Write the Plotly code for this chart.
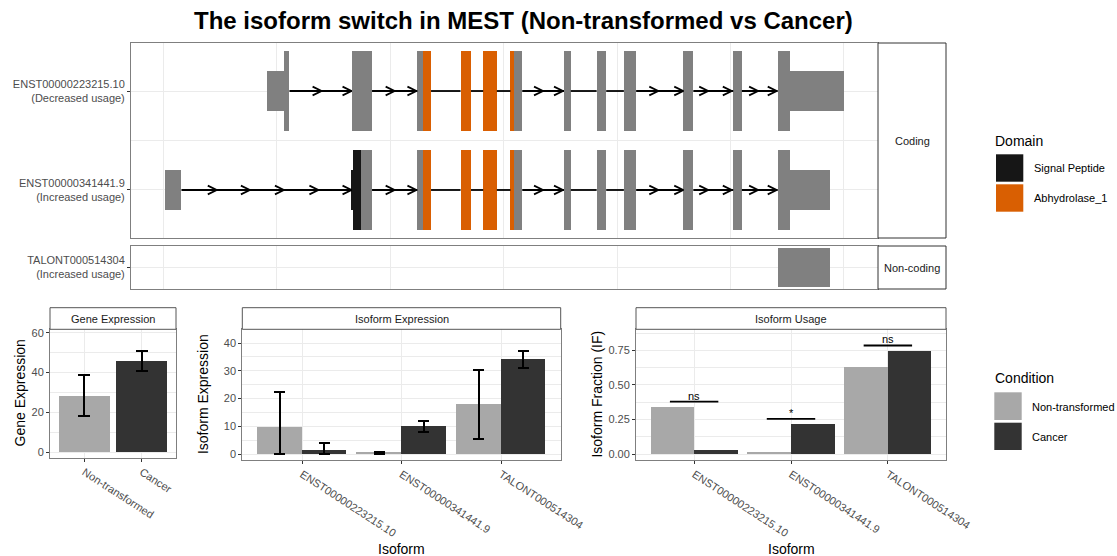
import plotly.graph_objects as go

W, H = 1117, 556

# ---------------- data ----------------
t1_name, t1_note = "ENST00000223215.10", "(Decreased usage)"
t2_name, t2_note = "ENST00000341441.9", "(Increased usage)"
t3_name, t3_note = "TALONT000514304", "(Increased usage)"

# exon segments (rescaled genomic coordinates)
t1_cds_start = [266, 415, 560, 655, 705, 765, 883, 955, 1015, 1146, 1256, 1354]
t1_cds_end = [278, 460, 590, 678, 735, 791, 898, 976, 1042, 1168, 1275, 1381]
t1_utr_start = [228, 1381]
t1_utr_end = [266, 1499]

t2_cds_start = [417, 560, 655, 705, 765, 883, 955, 1015, 1146, 1256, 1354]
t2_cds_end = [460, 590, 678, 735, 791, 898, 976, 1042, 1168, 1275, 1381]
t2_utr_start = [4, 415, 1381]
t2_utr_end = [40, 417, 1469]

t3_utr_start = [1354]
t3_utr_end = [1469]

# protein domains
sigpep_start = [415]
sigpep_end = [436]
abhyd_start = [573, 655, 705, 765]
abhyd_end = [590, 678, 735, 772]

# intron direction arrow tips
t1_arrows = [349, 415, 510, 558, 837, 881, 1091, 1146, 1201, 1253, 1311, 1352]
t2_arrows = [118, 191, 266, 342, 415, 510, 558, 837, 881, 1091, 1146, 1201, 1253, 1311, 1352]

# expression
conditions = ["Non-transformed", "Cancer"]
isoforms = ["ENST00000223215.10", "ENST00000341441.9", "TALONT000514304"]

gene_expr = [28.3, 45.9]
gene_lo = [18.1, 41.0]
gene_hi = [38.8, 51.0]

iso_nt = [9.7, 0.4, 17.8]
iso_nt_lo = [0.0, 0.0, 5.3]
iso_nt_hi = [22.4, 0.9, 30.3]
iso_ca = [1.5, 9.9, 34.0]
iso_ca_lo = [0.0, 8.0, 31.0]
iso_ca_hi = [3.9, 12.0, 37.1]

if_nt = [0.338, 0.006, 0.628]
if_ca = [0.029, 0.215, 0.741]
sig_y = [0.379, 0.254, 0.785]
sig_text = ["ns", "*", "ns"]

# ---------------- style ----------------
FONT = "Liberation Sans, Arial, Helvetica, sans-serif"
GRID = "#EBEBEB"
BORDER = "#7F7F7F"
TICKC = "#4D4D4D"
EXON = "#808080"
ORANGE = "#D95F02"
SIGP = "#161616"
NT_COL = "#A8A8A8"
CA_COL = "#333333"


def xdom(l, r):
    return [l / W, r / W]


def ydom(t, b):
    return [1 - b / H, 1 - t / H]


fig = go.Figure()


def hbars(starts, ends, row, height, color, xa, ya):
    fig.add_trace(go.Bar(
        orientation="h", base=starts,
        x=[e - s for s, e in zip(starts, ends)],
        y=[row] * len(starts), width=height,
        marker=dict(color=color, line=dict(width=0)),
        xaxis=xa, yaxis=ya, showlegend=False, hoverinfo="skip"))


def introns(segs, row, arrows, xa, ya):
    segs = sorted(segs)
    merged = []
    for s, e in segs:
        if merged and s <= merged[-1][1]:
            merged[-1][1] = max(merged[-1][1], e)
        else:
            merged.append([s, e])
    xs, ys = [], []
    for a, b in zip(merged[:-1], merged[1:]):
        xs += [a[1], b[0], None]
        ys += [row, row, None]
    dx, dy = 20, 0.044
    for t in arrows:
        xs += [t - dx, t, t - dx, None]
        ys += [row + dy, row, row - dy, None]
    fig.add_trace(go.Scatter(x=xs, y=ys, mode="lines",
                             line=dict(color="black", width=1.8),
                             xaxis=xa, yaxis=ya, showlegend=False, hoverinfo="skip"))


# transcript 1 (row 2) and 2 (row 1) in coding panel
introns(list(zip(t1_cds_start, t1_cds_end)) + list(zip(t1_utr_start, t1_utr_end)), 2, t1_arrows, "x", "y")
introns(list(zip(t2_cds_start, t2_cds_end)) + list(zip(t2_utr_start, t2_utr_end)), 1, t2_arrows, "x", "y")
hbars(t1_cds_start, t1_cds_end, 2, 0.8, EXON, "x", "y")
hbars(t1_utr_start, t1_utr_end, 2, 0.4, EXON, "x", "y")
hbars(t2_cds_start, t2_cds_end, 1, 0.8, EXON, "x", "y")
hbars(t2_utr_start, t2_utr_end, 1, 0.4, EXON, "x", "y")
hbars(abhyd_start, abhyd_end, 2, 0.8, ORANGE, "x", "y")
hbars(abhyd_start, abhyd_end, 1, 0.8, ORANGE, "x", "y")
hbars(sigpep_start[:1], [sigpep_start[0] + 2], 1, 0.4, SIGP, "x", "y")
hbars([s + 2 for s in sigpep_start], sigpep_end, 1, 0.8, SIGP, "x", "y")
# non-coding panel
hbars(t3_utr_start, t3_utr_end, 1, 0.4, EXON, "x2", "y2")

# gene expression
fig.add_trace(go.Bar(
    x=[0, 1], y=gene_expr, width=0.9,
    marker=dict(color=[NT_COL, CA_COL], line=dict(width=0)),
    error_y=dict(type="data", symmetric=False,
                 array=[h - v for h, v in zip(gene_hi, gene_expr)],
                 arrayminus=[v - l for l, v in zip(gene_lo, gene_expr)],
                 color="black", thickness=2, width=6),
    xaxis="x3", yaxis="y3", showlegend=False, hoverinfo="skip"))

# isoform expression
for vals, lo, hi, col, off in [(iso_nt, iso_nt_lo, iso_nt_hi, NT_COL, -0.225),
                                (iso_ca, iso_ca_lo, iso_ca_hi, CA_COL, 0.225)]:
    fig.add_trace(go.Bar(
        x=[i + off for i in range(len(vals))], y=vals, width=0.45,
        marker=dict(color=col, line=dict(width=0)),
        error_y=dict(type="data", symmetric=False,
                     array=[h - v for h, v in zip(hi, vals)],
                     arrayminus=[v - l for l, v in zip(lo, vals)],
                     color="black", thickness=2, width=5.5),
        xaxis="x4", yaxis="y4", showlegend=False, hoverinfo="skip"))

# isoform usage
for vals, col, off in [(if_nt, NT_COL, -0.225), (if_ca, CA_COL, 0.225)]:
    fig.add_trace(go.Bar(
        x=[i + off for i in range(len(vals))], y=vals, width=0.45,
        marker=dict(color=col, line=dict(width=0)),
        xaxis="x5", yaxis="y5", showlegend=False, hoverinfo="skip"))

sx, sy = [], []
for i, yv in enumerate(sig_y):
    sx += [i - 0.25, i + 0.25, None]
    sy += [yv, yv, None]
fig.add_trace(go.Scatter(x=sx, y=sy, mode="lines", line=dict(color="black", width=1.8),
                         xaxis="x5", yaxis="y5", showlegend=False, hoverinfo="skip"))

# ---------------- axes ----------------
base_ax = dict(showline=True, mirror=True, linecolor=BORDER, linewidth=1,
               zeroline=False, showgrid=True, gridcolor=GRID, gridwidth=1,
               tickfont=dict(family=FONT, size=11, color=TICKC),
               ticks="outside", ticklen=3, tickcolor="#333333", tickwidth=1,
               automargin=False)

lay = dict(
    xaxis=dict(base_ax, domain=xdom(131, 878), anchor="y", range=[-71.2, 1575],
               tickmode="linear", tick0=0, dtick=250, showticklabels=False, ticks=""),
    yaxis=dict(base_ax, domain=ydom(43, 238), anchor="x", range=[0.515, 2.485],
               tickmode="array", tickvals=[1, 2],
               ticktext=[t2_name + "<br>" + t2_note, t1_name + "<br>" + t1_note],
               minor=dict(tickmode="array", tickvals=[1.5], showgrid=True,
                          gridcolor=GRID, gridwidth=0.6, ticks="")),
    xaxis2=dict(base_ax, domain=xdom(131, 878), anchor="y2", range=[-71.2, 1575],
                tickmode="linear", tick0=0, dtick=250, showticklabels=False, ticks=""),
    yaxis2=dict(base_ax, domain=ydom(246, 289), anchor="x2", range=[0.783, 1.217],
                tickmode="array", tickvals=[1], ticktext=[t3_name + "<br>" + t3_note]),
    xaxis3=dict(base_ax, domain=xdom(50, 176), anchor="y3", range=[-0.6, 1.6],
                tickmode="array", tickvals=[0, 1], ticktext=conditions, tickangle=33),
    yaxis3=dict(base_ax, domain=ydom(329.3, 457.7), anchor="x3", range=[-2.7, 61.7],
                tickmode="array", tickvals=[0, 20, 40, 60],
                minor=dict(tickmode="array", tickvals=[10, 30, 50], showgrid=True,
                           gridcolor=GRID, gridwidth=0.6, ticks="")),
    xaxis4=dict(base_ax, domain=xdom(242.3, 560.7), anchor="y4", range=[-0.6, 2.6],
                tickmode="array", tickvals=[0, 1, 2], ticktext=isoforms, tickangle=33),
    yaxis4=dict(base_ax, domain=ydom(329.3, 460), anchor="x4", range=[-2.16, 44.94],
                tickmode="array", tickvals=[0, 10, 20, 30, 40],
                minor=dict(tickmode="array", tickvals=[5, 15, 25, 35], showgrid=True,
                           gridcolor=GRID, gridwidth=0.6, ticks="")),
    xaxis5=dict(base_ax, domain=xdom(636, 946), anchor="y5", range=[-0.6, 2.6],
                tickmode="array", tickvals=[0, 1, 2], ticktext=isoforms, tickangle=33),
    yaxis5=dict(base_ax, domain=ydom(329.3, 460), anchor="x5", range=[-0.0434, 0.902],
                tickmode="array", tickvals=[0, 0.25, 0.5, 0.75],
                ticktext=["0.00", "0.25", "0.50", "0.75"],
                minor=dict(tickmode="array", tickvals=[0.125, 0.375, 0.625, 0.875],
                           showgrid=True, gridcolor=GRID, gridwidth=0.6, ticks="")),
)

shapes = []
annotations = []


def paper_rect(l, t, r, b, fill, line_col, lw=1):
    shapes.append(dict(type="rect", xref="paper", yref="paper",
                       x0=l / W, x1=r / W, y0=1 - b / H, y1=1 - t / H,
                       fillcolor=fill, line=dict(color=line_col, width=lw), layer="above"))


def text(x, y, s, size=11, color="#1A1A1A", xanchor="center", angle=0, family=FONT):
    annotations.append(dict(x=x / W, y=1 - y / H, xref="paper", yref="paper", text=s,
                            showarrow=False, xanchor=xanchor, yanchor="middle",
                            textangle=angle, font=dict(family=family, size=size, color=color)))


# facet strips
paper_rect(878, 43, 946, 238, "white", "#333333")
paper_rect(878, 246, 946, 289, "white", "#333333")
text(912, 140.5, "Coding")
text(912, 267.5, "Non-coding")
paper_rect(50, 307.7, 176, 329.3, "white", "#555555")
paper_rect(242.3, 307.7, 560.7, 329.3, "white", "#555555")
paper_rect(636, 307.7, 946, 329.3, "white", "#555555")
text(113, 318.5, "Gene Expression")
text(401.5, 318.5, "Isoform Expression")
text(791, 318.5, "Isoform Usage")

# axis titles
text(19, 393.5, "Gene Expression", size=14, color="black", angle=-90)
text(202.5, 394.6, "Isoform Expression", size=14, color="black", angle=-90)
text(597, 394.6, "Isoform Fraction (IF)", size=14, color="black", angle=-90)
text(401.5, 549, "Isoform", size=14, color="black")
text(791, 549, "Isoform", size=14, color="black")

# significance labels
for i, (yv, s) in enumerate(zip(sig_y, sig_text)):
    annotations.append(dict(x=i, y=yv, xref="x5", yref="y5", text=s, showarrow=False,
                            yanchor="bottom", yshift=-2,
                            font=dict(family=FONT, size=11, color="black")))

# legends
text(993, 141, "Domain", size=14, color="black", xanchor="left")
paper_rect(996, 154.3, 1023.3, 181.7, SIGP, SIGP, 0)
paper_rect(996, 184.3, 1023.3, 211.7, ORANGE, ORANGE, 0)
text(1031.5, 168, "Signal Peptide", xanchor="left", color="black")
text(1031.5, 198, "Abhydrolase_1", xanchor="left", color="black")

text(993, 378.3, "Condition", size=14, color="black", xanchor="left")
paper_rect(994.3, 392.3, 1021.7, 420, NT_COL, NT_COL, 0)
paper_rect(994.3, 422.7, 1021.7, 450, CA_COL, CA_COL, 0)
text(1030, 406.5, "Non-transformed", xanchor="left", color="black")
text(1030, 436.5, "Cancer", xanchor="left", color="black")

# title
annotations.append(dict(
    x=523 / W, y=1 - 20.5 / H, xref="paper", yref="paper", showarrow=False,
    xanchor="center", yanchor="middle",
    text="<b>The isoform switch in MEST (Non-transformed vs Cancer)</b>",
    font=dict(family=FONT, size=24, color="black")))

fig.update_layout(
    **lay,
    width=W, height=H, margin=dict(l=0, r=0, t=0, b=0),
    paper_bgcolor="white", plot_bgcolor="white",
    barmode="overlay", bargap=0, showlegend=False,
    shapes=shapes, annotations=annotations,
    font=dict(family=FONT),
)

fig.write_html("out.html")
